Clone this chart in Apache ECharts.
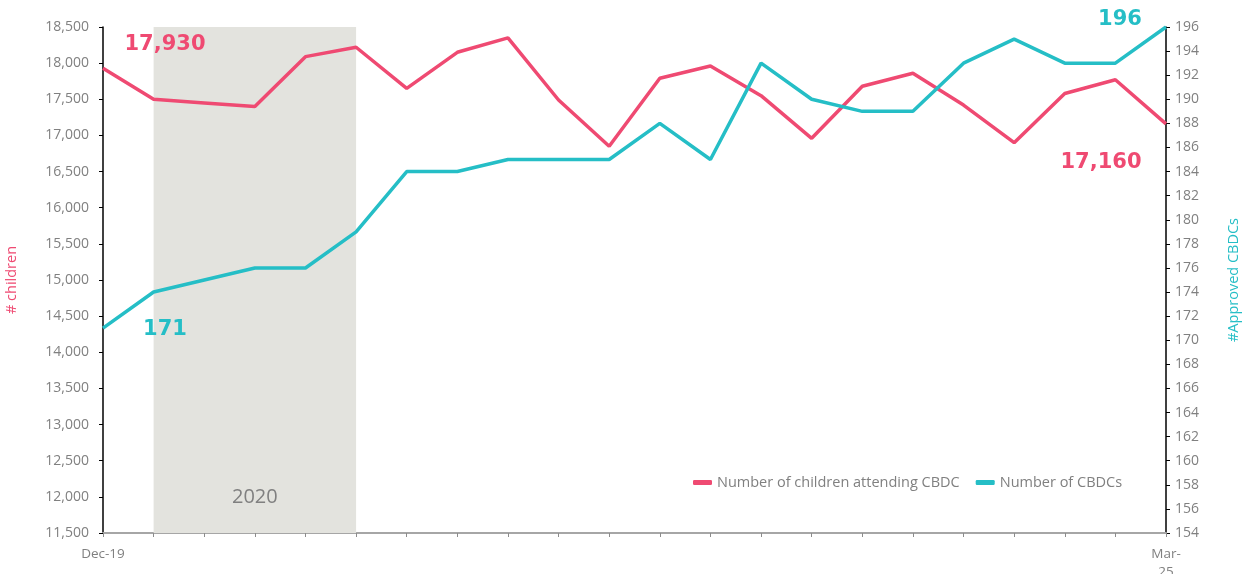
<!DOCTYPE html>
<html>
<head>
<meta charset="utf-8">
<script src="https://cdn.jsdelivr.net/npm/echarts@6/dist/echarts.min.js"></script>
<style>
  html, body { margin: 0; padding: 0; background: #fff; }
  #chart { width: 1247px; height: 574px; }
</style>
</head>
<body>
<div id="chart"></div>
<script>
var quarters = ['Dec-19', 'Mar-20', 'Jun-20', 'Sep-20', 'Dec-20', 'Mar-21', 'Jun-21', 'Sep-21',
  'Dec-21', 'Mar-22', 'Jun-22', 'Sep-22', 'Dec-22', 'Mar-23', 'Jun-23', 'Sep-23', 'Dec-23',
  'Mar-24', 'Jun-24', 'Sep-24', 'Dec-24', 'Mar-25'];
var children = [17930, 17500, 17450, 17400, 18090, 18220, 17650, 18150, 18350, 17490, 16850,
  17790, 17960, 17550, 16960, 17680, 17860, 17420, 16900, 17580, 17770, 17160];
var centres = [171, 174, 175, 176, 176, 179, 184, 184, 185, 185, 185, 188, 185, 193, 190, 189,
  189, 193, 195, 193, 193, 196];
var shadeFrom = 'Mar-20';
var shadeTo = 'Mar-21';
var shadeLabel = '2020';

var pink = '#ef4a72';
var teal = '#25bec6';
var grey = '#808080';
var font = '"Open Sans", "Noto Sans", sans-serif';
var bigFont = '"DejaVu Sans", sans-serif';

function fmt(v) { return v.toLocaleString('en-US'); }

// first / last point of each line carries a big bold value label
function withEndLabels(values, color, first, last) {
  return values.map(function (v, i) {
    var item = { value: v };
    var cfg = i === 0 ? first : (i === values.length - 1 ? last : null);
    if (cfg) {
      item.label = {
        show: true, position: 'inside', offset: cfg,
        formatter: function (p) { return fmt(p.value); },
        color: color, fontFamily: bigFont, fontWeight: 'bold', fontSize: 21
      };
    }
    return item;
  });
}

var chart = echarts.init(document.getElementById('chart'), null, { renderer: 'canvas' });
chart.setOption({
  animation: false,
  textStyle: { fontFamily: font },
  grid: { left: 103, right: 81, top: 27, bottom: 41, containLabel: false, outerBoundsMode: 'none' },
  legend: {
    left: 688, top: 470,
    icon: 'roundRect', itemWidth: 19, itemHeight: 5, itemGap: 16,
    textStyle: { color: grey, fontSize: 14.5, fontFamily: font },
    data: ['Number of children attending CBDC', 'Number of CBDCs']
  },
  xAxis: {
    type: 'category',
    data: quarters,
    boundaryGap: false,
    axisLine: { lineStyle: { color: '#a6a6a6', width: 2 } },
    axisTick: { show: true, interval: 0, length: 4, lineStyle: { color: '#8c8c8c' } },
    axisLabel: {
      color: grey, fontSize: 13.5, margin: 12, lineHeight: 18,
      interval: function (i) { return i === 0 || i === quarters.length - 1; },
      formatter: function (v) { return v === 'Mar-25' ? 'Mar-\n25' : v; }
    },
    splitLine: { show: false }
  },
  yAxis: [
    {
      type: 'value', min: 11500, max: 18500, interval: 500,
      name: '# children', nameLocation: 'middle', nameGap: 84,
      nameTextStyle: { color: pink, fontSize: 14.5 },
      axisLine: { show: true, lineStyle: { color: '#000', width: 1.5 } },
      axisTick: { show: true, length: 4, lineStyle: { color: '#000' } },
      axisLabel: { color: grey, fontSize: 14, margin: 14, formatter: function (v) { return fmt(v); } },
      splitLine: { show: false }
    },
    {
      type: 'value', min: 154, max: 196, interval: 2,
      name: '#Approved CBDCs', nameLocation: 'middle', nameGap: 60,
      nameTextStyle: { color: teal, fontSize: 14.5 },
      axisLine: { show: true, lineStyle: { color: '#000', width: 1.5 } },
      axisTick: { show: true, length: 4, lineStyle: { color: '#000' } },
      axisLabel: { color: grey, fontSize: 14, margin: 9 },
      splitLine: { show: false }
    }
  ],
  series: [
    {
      name: 'Number of children attending CBDC',
      type: 'line',
      yAxisIndex: 0,
      data: withEndLabels(children, pink, [62, -24], [-65, 39]),
      showSymbol: true, showAllSymbol: true, symbolSize: 0,
      lineStyle: { color: pink, width: 3.5 },
      itemStyle: { color: pink },
      z: 3,
      markArea: {
        silent: true,
        itemStyle: { color: '#e3e3de' },
        label: { show: true, position: 'insideBottom', distance: 26, color: grey, fontSize: 20, fontFamily: font },
        data: [[{ name: shadeLabel, xAxis: shadeFrom }, { xAxis: shadeTo }]]
      }
    },
    {
      name: 'Number of CBDCs',
      type: 'line',
      yAxisIndex: 1,
      data: withEndLabels(centres, teal, [62, 1], [-46, -7]),
      showSymbol: true, showAllSymbol: true, symbolSize: 0,
      lineStyle: { color: teal, width: 3.5 },
      itemStyle: { color: teal },
      z: 4
    }
  ]
});
</script>
</body>
</html>
